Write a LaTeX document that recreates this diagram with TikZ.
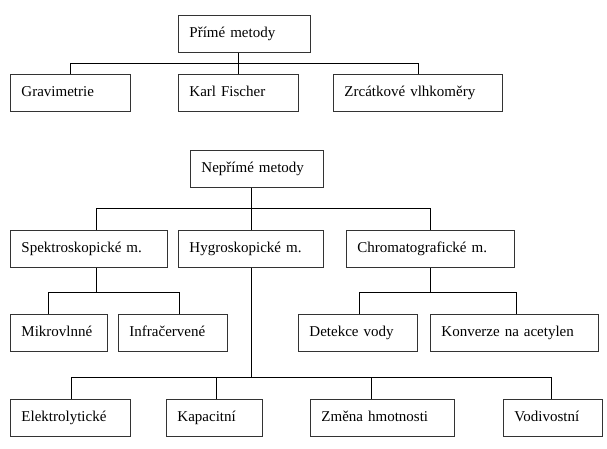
\documentclass[tikz,border=0pt]{standalone}
\usepackage{fontspec}
\setmainfont{Liberation Serif}
\begin{document}
\begin{tikzpicture}[x=1pt,y=-1pt,
  box/.style={draw=black!80, line width=0.9pt, anchor=north west, inner xsep=11pt, inner ysep=0pt,
    minimum height=37pt, align=left, text height=11pt, text depth=4pt,
    font=\fontsize{15}{18}\selectfont},
  conn/.style={draw=black, line width=0.9pt}]
\useasboundingbox (0,0) rectangle (607,449);
% Přímé metody
\node[box, text width=110pt] (pm) at (178,15) {Přímé metody};
\node[box, text width=98pt] (grav) at (10,74) {Gravimetrie};
\node[box, text width=98pt] (kf) at (178,74) {Karl Fischer};
\node[box, text width=147pt] (zr) at (333,74) {Zrcátkové vlhkoměry};
% Nepřímé metody
\node[box, text width=111pt] (np) at (190,150) {Nepřímé metody};
\node[box, text width=135pt] (sp) at (10,230) {Spektroskopické m.};
\node[box, text width=123pt] (hy) at (178,230) {Hygroskopické m.};
\node[box, text width=146pt] (ch) at (346,230) {Chromatografické m.};
\node[box, text width=75pt] (mik) at (10,314) {Mikrovlnné};
\node[box, text width=87pt] (inf) at (118,314) {Infračervené};
\node[box, text width=97pt] (det) at (298,314) {Detekce vody};
\node[box, text width=146pt] (kon) at (430,314) {Konverze na acetylen};
\node[box, text width=98pt] (el) at (10,399) {Elektrolytické};
\node[box, text width=74pt] (kap) at (166,399) {Kapacitní};
\node[box, text width=122pt] (zm) at (310,399) {Změna hmotnosti};
\node[box, text width=77pt] (vo) at (503,399) {Vodivostní};
% connectors top
\draw[conn] (kf.north) -- (kf.north |- pm.south);
\draw[conn] (grav.north) -- ++(0,-11) -| (zr.north);
% connectors bottom
\draw[conn] (hy.north) -- (hy.north |- np.south);
\draw[conn] ([xshift=7.5pt]sp.north) -- ++(0,-22) -| (ch.north);
\draw[conn] ([xshift=7.5pt]sp.south) -- ++(0,25) coordinate (spb);
\draw[conn] ([xshift=-10.5pt]mik.north) |- (spb) -| ([xshift=6.5pt]inf.north);
\draw[conn] (ch.south) -- ++(0,25) coordinate (chb);
\draw[conn] ([xshift=1.5pt]det.north) |- (chb) -| ([xshift=2pt]kon.north);
\draw[conn] (hy.south) -- ++(0,110) coordinate (hyb);
\draw[conn] ([xshift=1pt]el.north) |- (hyb) -| ([xshift=-1.5pt]vo.north);
\draw[conn] ([xshift=2pt]kap.north) -- ++(0,-22);
\draw[conn] ([xshift=-11pt]zm.north) -- ++(0,-22);
\end{tikzpicture}
\end{document}
